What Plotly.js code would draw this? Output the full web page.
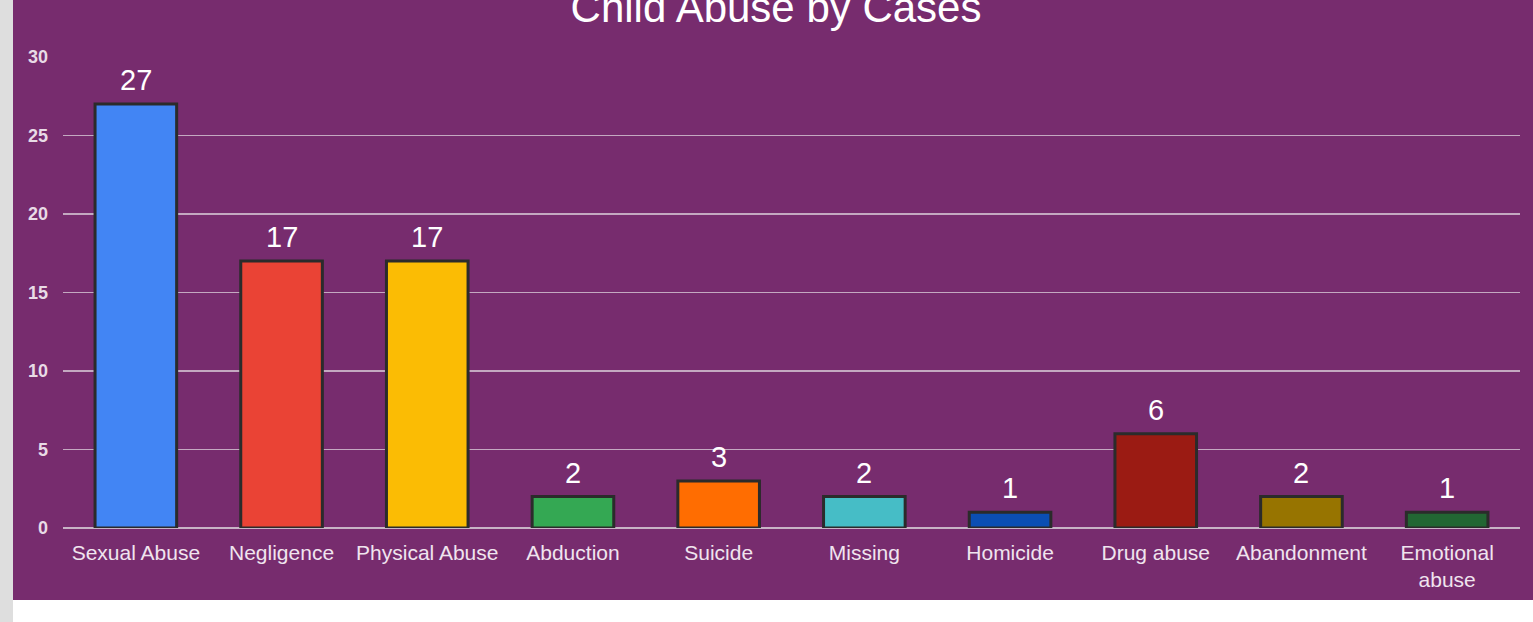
<!DOCTYPE html>
<html>
<head>
<meta charset="utf-8">
<script src="https://cdn.plot.ly/plotly-3.0.1.min.js"></script>
<style>
  html, body { margin: 0; padding: 0; background: #ffffff; width: 1533px; height: 622px; overflow: hidden; }
  #strip { position: absolute; left: 0; top: 0; width: 13px; height: 622px; background: #dedede; }
  #chart { position: absolute; left: 13px; top: 0; width: 1520px; height: 600px; }
</style>
</head>
<body>
<div id="strip"></div>
<div id="chart"></div>
<script>
const categories = ["Sexual Abuse", "Negligence", "Physical Abuse", "Abduction", "Suicide", "Missing", "Homicide", "Drug abuse", "Abandonment", "Emotional<br>abuse"];
const cases = [27, 17, 17, 2, 3, 2, 1, 6, 2, 1];
const barColors = ["#4285f4", "#ea4335", "#fbbc04", "#34a853", "#ff6d01", "#46bdc6", "#0b4eb3", "#9b1b13", "#977400", "#226633"];
const yTicks = [0, 5, 10, 15, 20, 25, 30];

const font = "Liberation Sans, Arial, sans-serif";

const trace = {
  type: "bar",
  x: categories,
  y: cases,
  marker: { color: barColors, line: { color: "#2b2b2b", width: 3 } },
  hoverinfo: "x+y"
};

const valueLabels = categories.map((c, i) => ({
  x: c,
  y: cases[i],
  xref: "x",
  yref: "y",
  text: String(cases[i]),
  showarrow: false,
  yanchor: "bottom",
  yshift: 6,
  font: { family: font, size: 29, color: "#ffffff" }
}));

const layout = {
  width: 1520,
  height: 600,
  paper_bgcolor: "#772c6e",
  plot_bgcolor: "#772c6e",
  margin: { l: 50, r: 13, t: 57, b: 72 },
  bargap: 0.44,
  showlegend: false,
  annotations: valueLabels,
  title: {
    text: "Child Abuse by Cases",
    font: { family: font, size: 42, color: "#ffffff" },
    xref: "container", x: 0.502, xanchor: "center",
    yref: "container", y: 0.988, yanchor: "middle"
  },
  xaxis: {
    type: "category",
    tickfont: { family: font, size: 21, color: "#f0e4ee" },
    showgrid: false,
    showline: false,
    zeroline: false,
    ticks: "",
    ticklabelstandoff: 10
  },
  yaxis: {
    range: [0, 30],
    tickvals: yTicks,
    ticktext: yTicks.map(String),
    tickfont: { family: font, size: 18, color: "#e8dbe6", weight: "bold" },
    showgrid: true,
    gridcolor: "#c4a9c1",
    gridwidth: 1.5,
    zeroline: true,
    zerolinecolor: "#c8b3c6",
    zerolinewidth: 2,
    ticks: "",
    ticklabelstandoff: 14
  }
};

Plotly.newPlot("chart", [trace], layout, { displayModeBar: false, staticPlot: true });
</script>
</body>
</html>
